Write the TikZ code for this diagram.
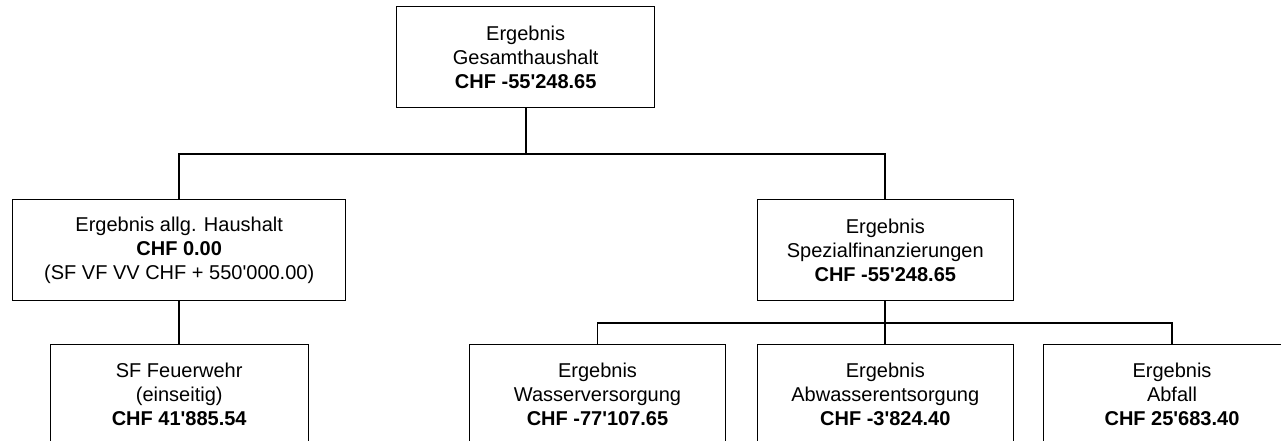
\documentclass[tikz,border=0pt]{standalone}
\usepackage{fontspec}
\newfontfamily\arialfont{Liberation Sans}
\begin{document}
\begin{tikzpicture}[x=1pt,y=-1pt,
  box/.style={draw=black,line width=1pt,fill=white,align=center,inner sep=0pt,
    minimum height=101pt,font=\arialfont\fontsize{20}{24}\selectfont},
  conn/.style={draw=black,line width=1.8pt}]
\useasboundingbox (0,0) rectangle (1281,441);
\clip (0,0) rectangle (1281,441);
\fill[white] (0,0) rectangle (1281,441);
\coordinate (bus1) at (0,154);
\coordinate (bus2) at (0,322.7);
\node[box,minimum width=258pt] (top) at (525.7,57.2) {Ergebnis\\Gesamthaushalt\\\textbf{CHF -55'248.65}};
\node[box,minimum width=333pt,minimum height=100.7pt] (L) at (179.2,250.3) {Ergebnis allg. Haushalt\\\textbf{CHF 0.00}\\(SF VF VV CHF + 550'000.00)};
\node[box,minimum width=256.4pt,minimum height=100.7pt] (S) at (885.3,250.3) {Ergebnis\\Spezialfinanzierungen\\\textbf{CHF -55'248.65}};
\node[box,minimum width=257.6pt] (F) at (179.2,394.8) {SF Feuerwehr\\(einseitig)\\\textbf{CHF 41'885.54}};
\node[box,minimum width=256.3pt] (W) at (597.5,394.8) {Ergebnis\\Wasserversorgung\\\textbf{CHF -77'107.65}};
\node[box,minimum width=256.4pt] (A) at (885.3,394.8) {Ergebnis\\Abwasserentsorgung\\\textbf{CHF -3'824.40}};
\node[box,minimum width=256.4pt] (B) at (1172,394.8) {Ergebnis\\Abfall\\\textbf{CHF 25'683.40}};
\draw[conn] (top.south) -- (top.south |- bus1);
\draw[conn] (L.north) -- (L.north |- bus1) -- (S.north |- bus1) -- (S.north);
\draw[conn] (L.south) -- (F.north);
\draw[conn] (S.south) -- (S.south |- bus2);
\draw[conn] (W.north) -- (W.north |- bus2) -- (B.north |- bus2) -- (B.north);
\draw[conn] (A.north) -- (A.north |- bus2);
\end{tikzpicture}
\end{document}
